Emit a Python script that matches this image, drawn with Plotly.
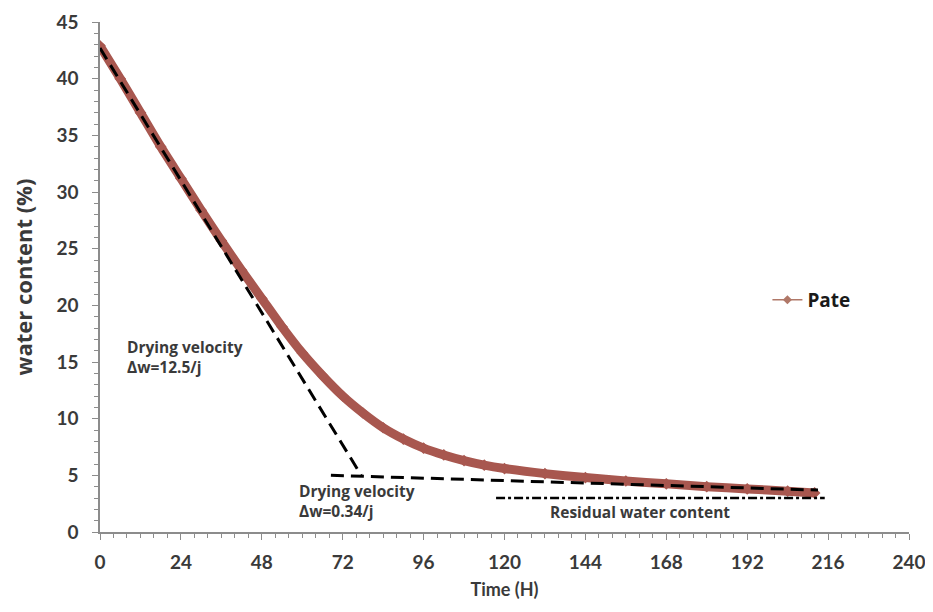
import plotly.graph_objects as go

# Measured drying curve (Time in hours, water content in %)
time_h = [0, 6, 12, 18, 24, 30, 36, 42, 48, 54, 60, 66, 72, 78, 84, 90, 96, 102,
          108, 114, 120, 132, 144, 156, 168, 180, 192, 204, 212]
water = [42.9, 40.0, 37.0, 34.0, 31.2, 28.4, 25.7, 23.1, 20.6, 18.1, 15.8, 13.8,
         12.0, 10.5, 9.2, 8.2, 7.4, 6.8, 6.3, 5.9, 5.6, 5.15, 4.8, 4.5, 4.25, 4.0,
         3.8, 3.6, 3.45]

# Construction lines
fast_t = [0, 77.5]
fast_w = [42.7, 5.0]
slow_t = [68.5, 213]
slow_w = [5.0, 3.7]
resid_t = [117.5, 215]
resid_w = [3.0, 3.0]

x_ticks = [0, 24, 48, 72, 96, 120, 144, 168, 192, 216, 240]
y_ticks = [0, 5, 10, 15, 20, 25, 30, 35, 40, 45]

FONT = "Lato"
TXT = "#3a3a3a"

fig = go.Figure()
fig.add_trace(go.Scatter(x=time_h, y=water, mode="lines+markers", showlegend=False,
                         line=dict(color="#a8574f", width=9, shape="spline", smoothing=0.6),
                         marker=dict(symbol="diamond", size=9, color="#a8574f")))
fig.add_trace(go.Scatter(x=fast_t, y=fast_w, mode="lines", showlegend=False,
                         line=dict(color="black", width=3, dash="13px,7px")))
fig.add_trace(go.Scatter(x=slow_t, y=slow_w, mode="lines", showlegend=False,
                         line=dict(color="black", width=3, dash="13px,7px")))
fig.add_trace(go.Scatter(x=resid_t, y=resid_w, mode="lines", showlegend=False,
                         line=dict(color="black", width=2.5, dash="dashdot")))
fig.add_trace(go.Scatter(x=[None], y=[None], mode="lines+markers", name="<b>Pate</b>",
                         line=dict(color="#b07868", width=1.5),
                         marker=dict(symbol="diamond", size=7, color="#b07868")))

ann_font = dict(family="Open Sans", size=15.5, color="#3a3a3a")
fig.add_annotation(x=7.4, y=15.4, text="<b>Drying velocity<br>Δw=12.5/j</b>", showarrow=False,
                   xanchor="left", yanchor="middle", align="left", font=ann_font)
fig.add_annotation(x=58.4, y=2.7, text="<b>Drying velocity<br>Δw=0.34/j</b>", showarrow=False,
                   xanchor="left", yanchor="middle", align="left", font=ann_font)
fig.add_annotation(x=133, y=1.75, text="<b>Residual water content</b>", showarrow=False,
                   xanchor="left", yanchor="middle", align="left", font=ann_font)

axis_common = dict(showgrid=False, zeroline=False, showline=True, linecolor="#8c8c8c",
                   linewidth=1.5, ticks="outside", tickcolor="#8c8c8c", ticklen=6,
                   automargin=False,
                   tickfont=dict(family=FONT, size=19, color=TXT))
fig.update_xaxes(range=[0, 240], tickvals=x_ticks, ticktext=[f"<b>{v}</b>" for v in x_ticks],
                 ticklabelstandoff=6,
                 minor=dict(dtick=4, tick0=0, ticks="outside", ticklen=4, tickcolor="#8c8c8c"),
                 title=dict(text="<b>Time (H)</b>", font=dict(family=FONT, size=18, color=TXT),
                            standoff=12),
                 **axis_common)
fig.update_yaxes(range=[0, 45], tickvals=y_ticks, ticktext=[f"<b>{v}</b>" for v in y_ticks],
                 ticklabelstandoff=10,
                 minor=dict(dtick=1, tick0=0, ticks="outside", ticklen=4, tickcolor="#8c8c8c"),
                 title=dict(text="<b>water content (%)</b>", font=dict(family="Open Sans", size=22, color=TXT),
                            standoff=25),
                 **axis_common)

fig.update_layout(width=925, height=604, plot_bgcolor="white", paper_bgcolor="white",
                  margin=dict(l=92, r=24, t=14, b=80),
                  legend=dict(x=0.825, y=0.455, xanchor="left", yanchor="middle",
                              font=dict(family="Open Sans", size=19, color="#1a1a1a"),
                              bgcolor="rgba(0,0,0,0)", itemwidth=30))
fig.write_html("out.html")
